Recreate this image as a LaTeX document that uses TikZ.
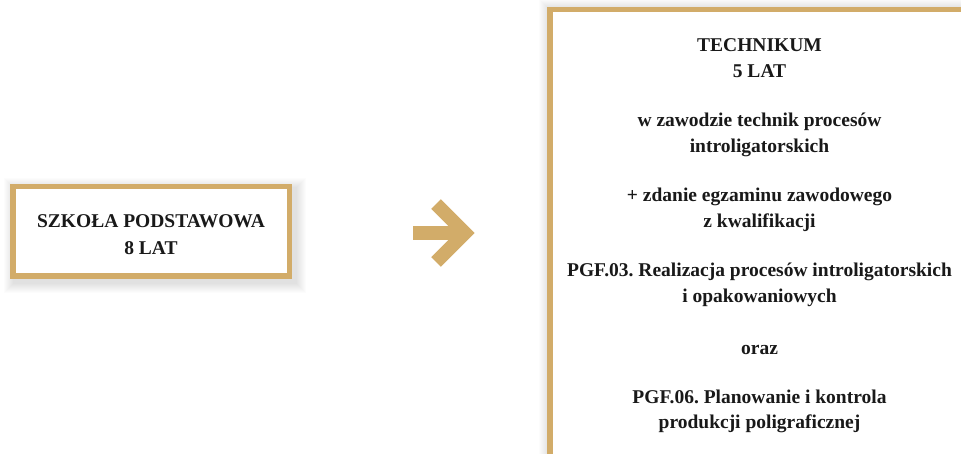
\documentclass[tikz,border=0pt]{standalone}
\usepackage{fontspec}
\setmainfont{Liberation Serif}
\frenchspacing
\definecolor{gold}{RGB}{210,172,105}
\tikzset{
  frame/.style={draw=gold, line width=5.5pt, fill=white},
  txt/.style={anchor=base, inner sep=0pt, font=\fontsize{19.5}{25}\selectfont\bfseries, text=black!90},
  arrowpart/.style={draw=gold, line width=13.5pt, line join=miter, line cap=butt},
}
\begin{document}
\begin{tikzpicture}[x=1pt,y=-1pt]
\useasboundingbox (0,0) rectangle (961,454);
\clip (0,0) rectangle (961,454);
% soft shadows
\foreach \d in {10,9,...,1}{
  \fill[black,opacity=0.012] (10+4-\d,184+4-\d) rectangle (292+4+\d,279+4+\d);
  \fill[black,opacity=0.010] (547+2-\d,7+2-\d) rectangle (990,480);
}
% left box
\draw[frame] (12.75,186.75) rectangle (289.25,276.25);
\node[txt] (l1) at (151,228) {SZKOŁA PODSTAWOWA};
\node[txt] (l2) at (151,255) {8 LAT};
% right box
\draw[frame] (549.75,9.75) rectangle (990,457);
\node[txt] (r1) at (759.5,52) {TECHNIKUM};
\node[txt] (r2) at (759.5,78) {5 LAT};
\node[txt] (r3) at (759.5,127) {w zawodzie technik procesów};
\node[txt] (r4) at (759.5,153) {introligatorskich};
\node[txt] (r5) at (759.5,202) {+ zdanie egzaminu zawodowego};
\node[txt] (r6) at (759.5,228) {z kwalifikacji};
\node[txt] (r7) at (759.5,277) {PGF.03. Realizacja procesów introligatorskich};
\node[txt] (r8) at (759.5,303) {i opakowaniowych};
\node[txt] (r9) at (759.5,354) {oraz};
\node[txt] (r10) at (759.5,403) {PGF.06. Planowanie i kontrola};
\node[txt] (r11) at (759.5,428) {produkcji poligraficznej};
% arrow
\coordinate (as) at (413,233);
\coordinate (ae) at (462,233);
\coordinate (at) at (465,233);
\coordinate (au) at (436,204);
\coordinate (ad) at (436,262);
\draw[arrowpart] (as) -- (ae);
\draw[arrowpart] (au) -- (at) -- (ad);
\end{tikzpicture}
\end{document}
